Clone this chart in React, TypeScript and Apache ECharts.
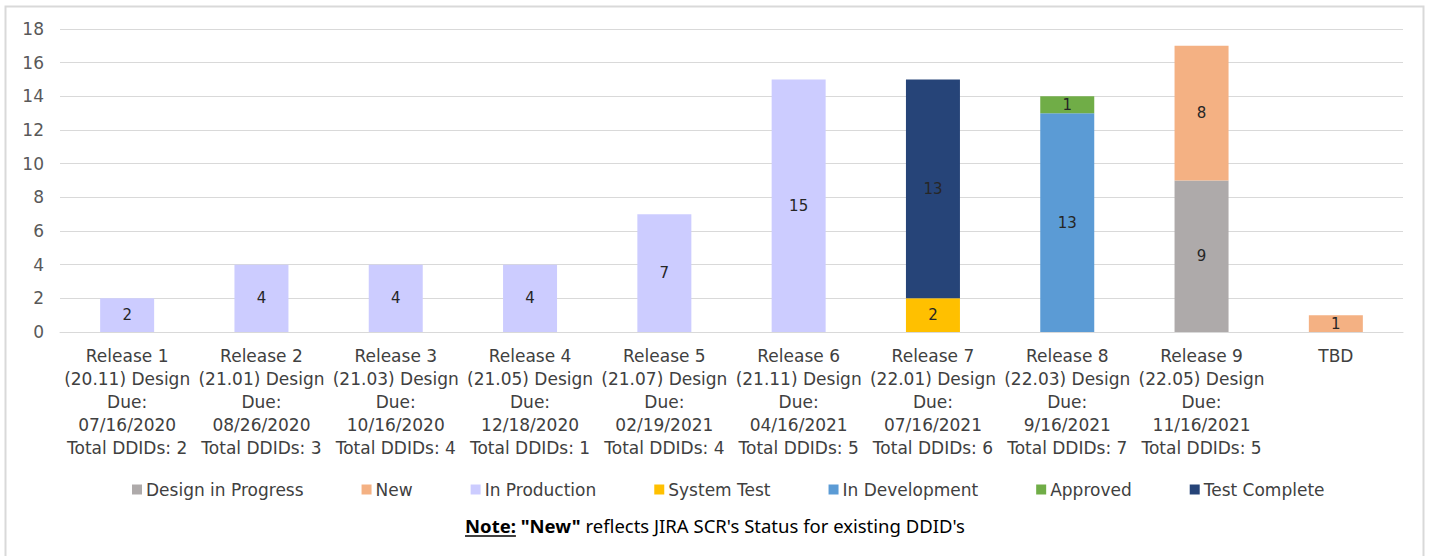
import React, { useEffect, useRef } from "react";
import * as echarts from "echarts";

const categories = [
  "Release 1\n(20.11) Design\nDue:\n07/16/2020\nTotal DDIDs: 2",
  "Release 2\n(21.01) Design\nDue:\n08/26/2020\nTotal DDIDs: 3",
  "Release 3\n(21.03) Design\nDue:\n10/16/2020\nTotal DDIDs: 4",
  "Release 4\n(21.05) Design\nDue:\n12/18/2020\nTotal DDIDs: 1",
  "Release 5\n(21.07) Design\nDue:\n02/19/2021\nTotal DDIDs: 4",
  "Release 6\n(21.11) Design\nDue:\n04/16/2021\nTotal DDIDs: 5",
  "Release 7\n(22.01) Design\nDue:\n07/16/2021\nTotal DDIDs: 6",
  "Release 8\n(22.03) Design\nDue:\n9/16/2021\nTotal DDIDs: 7",
  "Release 9\n(22.05) Design\nDue:\n11/16/2021\nTotal DDIDs: 5",
  "TBD",
];

const designInProgress = [null, null, null, null, null, null, null, null, 9, null];
const newStatus = [null, null, null, null, null, null, null, null, 8, 1];
const inProduction = [2, 4, 4, 4, 7, 15, null, null, null, null];
const systemTest = [null, null, null, null, null, null, 2, null, null, null];
const inDevelopment = [null, null, null, null, null, null, null, 13, null, null];
const approved = [null, null, null, null, null, null, null, 1, null, null];
const testComplete = [null, null, null, null, null, null, 13, null, null, null];

const yTicks = { min: 0, max: 18, interval: 2 };

const seriesDefs = [
  { name: "Design in Progress", data: designInProgress, color: "#AEAAAA" },
  { name: "New", data: newStatus, color: "#F4B183" },
  { name: "In Production", data: inProduction, color: "#CCCCFF" },
  { name: "System Test", data: systemTest, color: "#FFC000" },
  { name: "In Development", data: inDevelopment, color: "#5B9BD5" },
  { name: "Approved", data: approved, color: "#70AD47" },
  { name: "Test Complete", data: testComplete, color: "#264478" },
];

const noteFont = "Noto Sans";
const noteSize = 18.5;

function measure(text: string, font: string): number {
  const c = document.createElement("canvas").getContext("2d");
  if (!c) return text.length * 8;
  c.font = font;
  return c.measureText(text).width;
}

export default function App() {
  const ref = useRef<HTMLDivElement>(null);
  useEffect(() => {
    if (!ref.current) return;
    const chart = echarts.init(ref.current, null, { renderer: "svg" });

    const boldPart1 = "Note:";
    const boldPart2 = '"New"';
    const rest = " reflects JIRA SCR's Status for existing DDID's";
    const wNote = measure(boldPart1, `bold ${noteSize}px "${noteFont}"`);
    const wSp = measure(" ", `${noteSize}px "${noteFont}"`);
    const wNew = measure(boldPart2, `bold ${noteSize}px "${noteFont}"`);
    const wRest = measure(rest, `${noteSize}px "${noteFont}"`);
    const total = wNote + wSp + wNew + wRest;
    const noteCx = 715;
    const noteY = 525;
    const x0 = noteCx - total / 2;

    chart.setOption({
      animation: false,
      backgroundColor: "#ffffff",
      grid: { left: 60, right: 27, top: 29, bottom: 224, containLabel: false },
      legend: {
        top: 476,
        left: 127,
        itemWidth: 10,
        itemHeight: 10,
        itemGap: 58,
        icon: "rect",
        textStyle: { fontFamily: "DejaVu Sans", fontSize: 17, color: "#404040", padding: [0, 0, 0, -1] },
        data: seriesDefs.map((s) => s.name),
      },
      xAxis: {
        type: "category",
        data: categories,
        axisLine: { show: true, lineStyle: { color: "#D9D9D9", width: 1 } },
        axisTick: { show: false },
        axisLabel: {
          interval: 0,
          margin: 12,
          color: "#404040",
          fontFamily: "DejaVu Sans",
          fontSize: 17,
          lineHeight: 23,
          align: "center",
          verticalAlign: "top",
        },
      },
      yAxis: {
        type: "value",
        min: yTicks.min,
        max: yTicks.max,
        interval: yTicks.interval,
        axisLine: { show: false },
        axisTick: { show: false },
        splitLine: { lineStyle: { color: "#D9D9D9", width: 1 } },
        axisLabel: {
          margin: 16,
          color: "#595959",
          fontFamily: "DejaVu Sans",
          fontSize: 17,
        },
      },
      series: seriesDefs.map((s) => ({
        name: s.name,
        type: "bar",
        stack: "total",
        barWidth: 54,
        data: s.data,
        itemStyle: { color: s.color },
        label: {
          show: true,
          position: "inside",
          color: "#262626",
          fontFamily: "DejaVu Sans",
          fontSize: 15,
        },
      })),
      graphic: [
        {
          type: "rect",
          shape: { x: 5.5, y: 6.5, width: 1418, height: 560 },
          style: { fill: "none", stroke: "#D9D9D9", lineWidth: 2 },
          silent: true,
          z: -1,
        },
        {
          type: "text",
          x: x0,
          y: noteY,
          style: {
            text: `{b|${boldPart1}} {b|${boldPart2}}{n|${rest}}`,
            verticalAlign: "middle",
            align: "left",
            rich: {
              b: { fontFamily: noteFont, fontSize: noteSize, fontWeight: "bold", fill: "#000000" },
              n: { fontFamily: noteFont, fontSize: noteSize, fill: "#000000" },
            },
            fontFamily: noteFont,
            fontSize: noteSize,
            fill: "#000000",
          },
        },
        {
          type: "line",
          shape: { x1: x0, y1: noteY + 11, x2: x0 + wNote, y2: noteY + 11 },
          style: { stroke: "#000000", lineWidth: 1.3 },
        },
      ],
    });
    return () => chart.dispose();
  }, []);
  return (
    <div
      ref={ref}
      style={{ position: "fixed", left: 0, top: 0, width: 1430, height: 556 }}
    />
  );
}
